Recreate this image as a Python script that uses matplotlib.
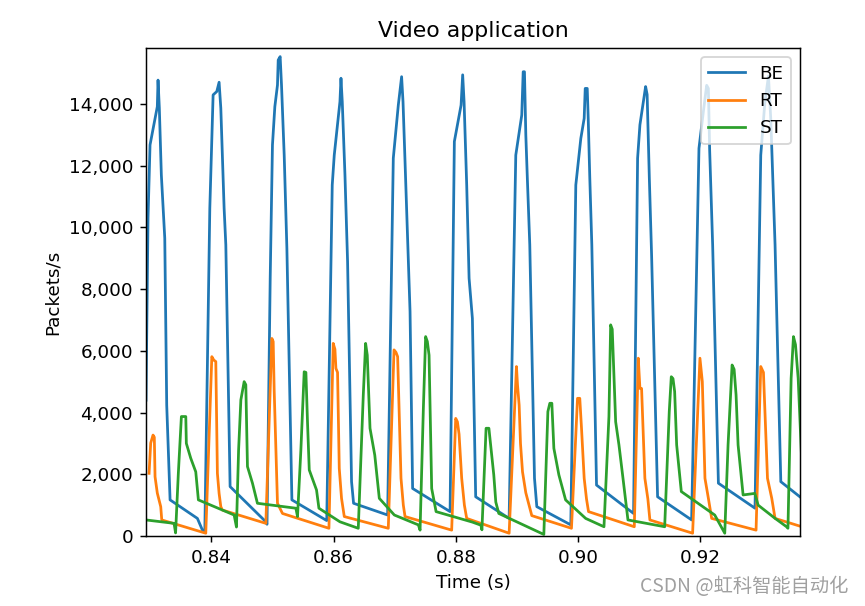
import matplotlib
matplotlib.use("Agg")
import matplotlib.pyplot as plt
from matplotlib.ticker import FuncFormatter

# ---- data ----
be_time = [0.82930, 0.82963, 0.82996, 0.83115, 0.83127, 0.83148, 0.83181, 0.83237, 0.83269, 0.83324, 0.83771, 0.83853, 0.83892,
           0.83974, 0.84028, 0.84088, 0.84126, 0.84154, 0.84208, 0.84236, 0.84306, 0.84891, 0.84910,
           0.84962, 0.84999, 0.85038, 0.85081, 0.85093, 0.85125, 0.85147, 0.85191, 0.85235, 0.85317, 0.85887,
           0.85977, 0.86010, 0.86103, 0.86120, 0.86141, 0.86185, 0.86228, 0.86293, 0.86326, 0.86883,
           0.86976, 0.87058, 0.87112, 0.87135, 0.87168, 0.87250, 0.87292, 0.87905,
           0.87975, 0.88085, 0.88111, 0.88134, 0.88177, 0.88216, 0.88270, 0.88324, 0.88871,
           0.88980, 0.89078, 0.89101, 0.89122, 0.89144, 0.89169, 0.89209, 0.89286, 0.89324, 0.89880,
           0.89962, 0.90044, 0.90099, 0.90116, 0.90149, 0.90165, 0.90191, 0.90224, 0.90301, 0.90907,
           0.90973, 0.91011, 0.91104, 0.91129, 0.91165, 0.91202, 0.91300, 0.91857,
           0.91977, 0.92049, 0.92103, 0.92131, 0.92152, 0.92201, 0.92295, 0.92894,
           0.92988, 0.93053, 0.93114, 0.93152, 0.93222, 0.93316, 0.93660]
be_rate = [4400, 10300, 12670, 13910, 14770, 13870, 11700, 9650, 4240, 1170, 570, 190, 120,
           10620, 14290, 14400, 14700, 13860, 10620, 9430, 1600, 460, 380,
           8350, 12670, 13910, 14610, 15420, 15530, 14610, 12340, 9320, 1170, 500,
           11370, 12340, 14070, 14830, 14070, 11700, 8890, 1760, 1060, 680,
           12240, 13960, 14880, 14070, 12130, 7270, 1540, 790,
           12780, 13960, 14940, 14070, 11370, 8350, 7050, 1270, 570,
           12340, 13640, 15040, 15040, 13000, 11590, 9430, 1870, 950, 360,
           11370, 12880, 13530, 14500, 14500, 13530, 11590, 9430, 1650, 730,
           12240, 13320, 14560, 14300, 11590, 9100, 1270, 520,
           12560, 13750, 14600, 14500, 12500, 9430, 1710, 900,
           12340, 14000, 14900, 13500, 9430, 1760, 1220]

rt_time = [0.82980, 0.83007, 0.83045, 0.83066, 0.83078, 0.83115, 0.83171, 0.83188, 0.83908,
           0.84007, 0.84039, 0.84072, 0.84098, 0.84126, 0.84154, 0.84180, 0.84891,
           0.84989, 0.85011, 0.85027, 0.85081, 0.85163, 0.85923,
           0.85993, 0.86021, 0.86037, 0.86064, 0.86092, 0.86129, 0.86174, 0.86894,
           0.86988, 0.87020, 0.87047, 0.87102, 0.87140, 0.87168, 0.87931,
           0.87997, 0.88025, 0.88052, 0.88095, 0.88139, 0.88177, 0.88871,
           0.88991, 0.89008, 0.89035, 0.89057, 0.89090, 0.89144, 0.89242, 0.89891,
           0.89990, 0.90027, 0.90055, 0.90099, 0.90137, 0.90170, 0.90919,
           0.90984, 0.91011, 0.91038, 0.91092, 0.91141, 0.91174, 0.91873,
           0.91993, 0.92032, 0.92075, 0.92131, 0.92185, 0.92911,
           0.92988, 0.93032, 0.93098, 0.93168, 0.93222, 0.93660]
rt_rate = [2030, 3010, 3270, 3200, 1920, 1390, 950, 520, 90,
           5810, 5700, 5650, 2030, 1380, 950, 840, 410,
           6400, 6300, 4730, 1060, 730, 250,
           6240, 6050, 5430, 5300, 2190, 1220, 630, 250,
           6030, 5950, 5810, 1870, 1000, 630, 190,
           3810, 3700, 3300, 1870, 1000, 570, 90,
           5490, 4900, 4240, 3000, 2080, 1400, 660, 250,
           4460, 4460, 3500, 1870, 1200, 790, 300,
           5760, 4780, 4780, 1870, 1200, 520, 90,
           5760, 5000, 1870, 1220, 570, 190,
           5490, 5300, 1870, 1220, 570, 300]

st_time = [0.82930, 0.83389, 0.83414, 0.83459, 0.83509, 0.83581, 0.83590, 0.83662, 0.83744, 0.83787, 0.84372, 0.84410,
           0.84445, 0.84482, 0.84536, 0.84563, 0.84590, 0.84672, 0.84753, 0.85382, 0.85409,
           0.85464, 0.85518, 0.85546, 0.85573, 0.85601, 0.85720, 0.85759, 0.86103, 0.86403,
           0.86485, 0.86523, 0.86550, 0.86595, 0.86673, 0.86747, 0.86993, 0.87386, 0.87414,
           0.87468, 0.87505, 0.87533, 0.87561, 0.87604, 0.87676, 0.88270, 0.88409, 0.88426,
           0.88494, 0.88540, 0.88620, 0.88653, 0.88702, 0.89439,
           0.89505, 0.89537, 0.89570, 0.89603, 0.89685, 0.89795, 0.90123, 0.90423,
           0.90504, 0.90532, 0.90558, 0.90614, 0.90668, 0.90734, 0.90815, 0.90979, 0.91416,
           0.91491, 0.91524, 0.91552, 0.91579, 0.91612, 0.91688, 0.92235, 0.92399,
           0.92453, 0.92519, 0.92552, 0.92584, 0.92617, 0.92699, 0.92891, 0.92945, 0.93223, 0.93410, 0.93433,
           0.93485, 0.93523, 0.93556, 0.93600, 0.93654]
st_rate = [520, 410, 100, 2030, 3870, 3870, 3000, 2520, 2080, 1170, 680, 290,
           2790, 4410, 5000, 4900, 2250, 1710, 1060, 900, 630,
           2790, 5320, 5300, 3650, 2140, 1490, 900, 460, 250,
           4570, 6240, 5860, 3490, 2620, 1220, 680, 360, 190,
           4140, 6460, 6300, 5860, 1540, 790, 450, 350, 200,
           3490, 3490, 1980, 1100, 730, 50,
           4030, 4300, 4300, 2840, 1980, 1170, 570, 300,
           3870, 6840, 6700, 3700, 2950, 1870, 520, 460, 300,
           4030, 5160, 5100, 4680, 2950, 1440, 680, 90,
           2950, 5540, 5400, 4570, 2950, 1330, 1380, 1000, 570, 300, 250,
           5110, 6460, 6200, 5110, 2620]

series_names = ["BE", "RT", "ST"]
title = "Video application"
x_label = "Time (s)"
y_label = "Packets/s"
watermark = "CSDN @虹科智能自动化"

# ---- figure ----
DPI = 132
W, H = 865, 606
fig = plt.figure(figsize=(W / DPI, H / DPI), dpi=DPI)
ax = fig.add_axes([146 / W, 1 - 536 / H, (800 - 146) / W, (536 - 48.3) / H])

ax.plot(be_time, be_rate, label=series_names[0])
ax.plot(rt_time, rt_rate, label=series_names[1])
ax.plot(st_time, st_rate, label=series_names[2])

ax.set_xlim(0.8293, 0.9363)
ax.set_ylim(0, 15800)
ax.set_xticks([0.84, 0.86, 0.88, 0.90, 0.92])
ax.set_yticks(range(0, 14001, 2000))
ax.yaxis.set_major_formatter(FuncFormatter(lambda v, p: f"{int(v):,}"))
ax.xaxis.set_major_formatter(FuncFormatter(lambda v, p: f"{v:.2f}"))

ax.set_title(title)
ax.set_xlabel(x_label)
ax.set_ylabel(y_label)
ax.legend(loc="upper right")

fig.text(848 / W, 1 - 592 / H, watermark, ha="right", va="baseline",
         fontsize=10.5, color="#a0a0a0",
         family=["Noto Sans CJK SC", "DejaVu Sans"])

fig.savefig("out.png", dpi=DPI)
